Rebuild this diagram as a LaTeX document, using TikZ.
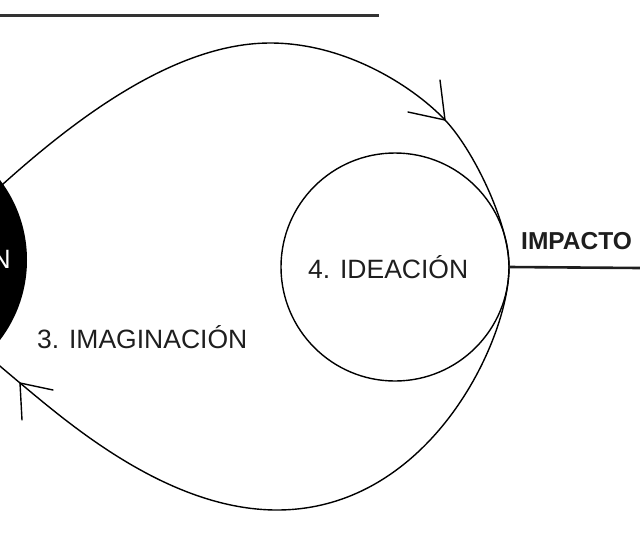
\documentclass[tikz,border=0pt]{standalone}
\usepackage{fontspec}
\setmainfont{Liberation Sans}
\definecolor{ink}{HTML}{1E1E1E}
\definecolor{rule}{HTML}{333333}
\begin{document}
\begin{tikzpicture}[x=1pt,y=-1pt,
  loopline/.style={draw=black,line width=1.4pt},
  barb/.style={draw=black,line width=1.4pt,line cap=round},
  label/.style={inner sep=0pt,anchor=base west,text=ink,font=\fontsize{26.5}{30}\selectfont},
  boldlabel/.style={inner sep=0pt,anchor=base west,text=ink,font=\fontsize{24.5}{28}\selectfont\bfseries}]
\useasboundingbox (0,0) rectangle (640,542);
% top rule
\coordinate (r1) at (0,15);
\coordinate (r2) at (379,15);
\draw[rule,line width=3pt] (r1) -- (r2);
% black circle
\node[circle,fill=black,minimum size=264pt,inner sep=0pt] (blk) at (-105,260) {};
\node[inner sep=0pt,anchor=base east,text=white,font=\fontsize{26.5}{30}\selectfont] (blktxt) at (11,268) {N};
% ideation circle
\node[circle,draw=black,line width=1.4pt,minimum size=228pt,inner sep=0pt] (ide) at (395,267) {};
\node[label] (idetxt) at (308,278) {4. IDEACIÓN};
\node[label] (imtxt) at (37,348) {3. IMAGINACIÓN};
\node[boldlabel] (imp) at (521,249) {IMPACTO};
% loop
\coordinate (A) at (-20,205);
\coordinate (P) at (270,43);
\coordinate (Q) at (445,120);
\coordinate (T) at (509,267);
\coordinate (B) at (277,510);
\coordinate (R) at (20,383);
\coordinate (E) at (-25,345);
\draw[loopline] (A) .. controls (45,145) and (160,43) .. (P)
  .. controls (350,43) and (418,91) .. (Q)
  .. controls (472,148) and (509,222) .. (T)
  .. controls (509,340) and (430,510) .. (B)
  .. controls (167,510) and (66,421) .. (R)
  -- (E);
% arrowheads
\coordinate (qa) at (440,80);
\coordinate (qb) at (408,112);
\coordinate (ra) at (53,390);
\coordinate (rb) at (22,420);
\draw[barb] (qa) -- (Q) -- (qb);
\draw[barb] (ra) -- (R) -- (rb);
% impact line
\coordinate (impend) at (640,268);
\draw[draw=ink,line width=2.6pt] (ide.east) -- (impend);
\end{tikzpicture}
\end{document}
